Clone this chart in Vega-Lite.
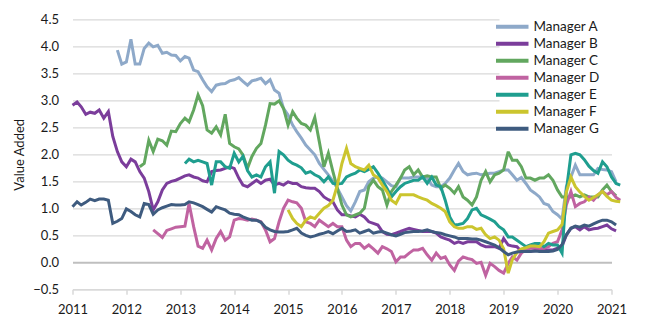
{
 "$schema": "https://vega.github.io/schema/vega-lite/v6.json",
 "width": 539, "height": 270,
 "autosize": {"type": "none"},
 "padding": {"left": 72.5, "top": 19.3, "right": 52.5, "bottom": 37.7},
 "background": "white",
 "config": {"view": {"stroke": null}, "font": "Lato"},
 "data": {"values": [
{"s":"Manager A","d":"2011-11","v":3.93},{"s":"Manager A","d":"2011-12","v":3.67},{"s":"Manager A","d":"2012-01","v":3.71},{"s":"Manager A","d":"2012-02","v":4.13},{"s":"Manager A","d":"2012-03","v":3.67},{"s":"Manager A","d":"2012-04","v":3.67},{"s":"Manager A","d":"2012-05","v":3.96},{"s":"Manager A","d":"2012-06","v":4.06},{"s":"Manager A","d":"2012-07","v":3.99},{"s":"Manager A","d":"2012-08","v":4.02},{"s":"Manager A","d":"2012-09","v":3.87},{"s":"Manager A","d":"2012-10","v":3.89},{"s":"Manager A","d":"2012-11","v":3.84},{"s":"Manager A","d":"2012-12","v":3.83},{"s":"Manager A","d":"2013-01","v":3.73},{"s":"Manager A","d":"2013-02","v":3.81},{"s":"Manager A","d":"2013-03","v":3.78},{"s":"Manager A","d":"2013-04","v":3.56},{"s":"Manager A","d":"2013-05","v":3.53},{"s":"Manager A","d":"2013-06","v":3.38},{"s":"Manager A","d":"2013-07","v":3.25},{"s":"Manager A","d":"2013-08","v":3.16},{"s":"Manager A","d":"2013-09","v":3.28},{"s":"Manager A","d":"2013-10","v":3.30},{"s":"Manager A","d":"2013-11","v":3.31},{"s":"Manager A","d":"2013-12","v":3.36},{"s":"Manager A","d":"2014-01","v":3.38},{"s":"Manager A","d":"2014-02","v":3.42},{"s":"Manager A","d":"2014-03","v":3.35},{"s":"Manager A","d":"2014-04","v":3.28},{"s":"Manager A","d":"2014-05","v":3.36},{"s":"Manager A","d":"2014-06","v":3.38},{"s":"Manager A","d":"2014-07","v":3.41},{"s":"Manager A","d":"2014-08","v":3.31},{"s":"Manager A","d":"2014-09","v":3.38},{"s":"Manager A","d":"2014-10","v":3.19},{"s":"Manager A","d":"2014-11","v":3.13},{"s":"Manager A","d":"2014-12","v":2.85},{"s":"Manager A","d":"2015-01","v":2.73},{"s":"Manager A","d":"2015-02","v":2.54},{"s":"Manager A","d":"2015-03","v":2.42},{"s":"Manager A","d":"2015-04","v":2.30},{"s":"Manager A","d":"2015-05","v":2.17},{"s":"Manager A","d":"2015-06","v":2.08},{"s":"Manager A","d":"2015-07","v":1.99},{"s":"Manager A","d":"2015-08","v":1.83},{"s":"Manager A","d":"2015-09","v":1.72},{"s":"Manager A","d":"2015-10","v":1.62},{"s":"Manager A","d":"2015-11","v":1.50},{"s":"Manager A","d":"2015-12","v":1.37},{"s":"Manager A","d":"2016-01","v":1.21},{"s":"Manager A","d":"2016-02","v":1.05},{"s":"Manager A","d":"2016-03","v":0.95},{"s":"Manager A","d":"2016-04","v":1.12},{"s":"Manager A","d":"2016-05","v":1.31},{"s":"Manager A","d":"2016-06","v":1.34},{"s":"Manager A","d":"2016-07","v":1.49},{"s":"Manager A","d":"2016-08","v":1.56},{"s":"Manager A","d":"2016-09","v":1.58},{"s":"Manager A","d":"2016-10","v":1.56},{"s":"Manager A","d":"2016-11","v":1.49},{"s":"Manager A","d":"2016-12","v":1.42},{"s":"Manager A","d":"2017-01","v":1.40},{"s":"Manager A","d":"2017-02","v":1.56},{"s":"Manager A","d":"2017-03","v":1.56},{"s":"Manager A","d":"2017-04","v":1.56},{"s":"Manager A","d":"2017-05","v":1.58},{"s":"Manager A","d":"2017-06","v":1.58},{"s":"Manager A","d":"2017-07","v":1.58},{"s":"Manager A","d":"2017-08","v":1.56},{"s":"Manager A","d":"2017-09","v":1.43},{"s":"Manager A","d":"2017-10","v":1.40},{"s":"Manager A","d":"2017-11","v":1.40},{"s":"Manager A","d":"2017-12","v":1.46},{"s":"Manager A","d":"2018-01","v":1.56},{"s":"Manager A","d":"2018-02","v":1.71},{"s":"Manager A","d":"2018-03","v":1.83},{"s":"Manager A","d":"2018-04","v":1.68},{"s":"Manager A","d":"2018-05","v":1.62},{"s":"Manager A","d":"2018-06","v":1.64},{"s":"Manager A","d":"2018-07","v":1.65},{"s":"Manager A","d":"2018-08","v":1.62},{"s":"Manager A","d":"2018-09","v":1.63},{"s":"Manager A","d":"2018-10","v":1.65},{"s":"Manager A","d":"2018-11","v":1.65},{"s":"Manager A","d":"2018-12","v":1.68},{"s":"Manager A","d":"2019-01","v":1.71},{"s":"Manager A","d":"2019-02","v":1.71},{"s":"Manager A","d":"2019-03","v":1.62},{"s":"Manager A","d":"2019-04","v":1.52},{"s":"Manager A","d":"2019-05","v":1.57},{"s":"Manager A","d":"2019-06","v":1.46},{"s":"Manager A","d":"2019-07","v":1.34},{"s":"Manager A","d":"2019-08","v":1.28},{"s":"Manager A","d":"2019-09","v":1.21},{"s":"Manager A","d":"2019-10","v":1.09},{"s":"Manager A","d":"2019-11","v":1.06},{"s":"Manager A","d":"2019-12","v":0.94},{"s":"Manager A","d":"2020-01","v":0.88},{"s":"Manager A","d":"2020-02","v":0.80},{"s":"Manager A","d":"2020-03","v":1.40},{"s":"Manager A","d":"2020-04","v":1.58},{"s":"Manager A","d":"2020-05","v":1.80},{"s":"Manager A","d":"2020-06","v":1.62},{"s":"Manager A","d":"2020-07","v":1.62},{"s":"Manager A","d":"2020-08","v":1.62},{"s":"Manager A","d":"2020-09","v":1.62},{"s":"Manager A","d":"2020-10","v":1.74},{"s":"Manager A","d":"2020-11","v":1.72},{"s":"Manager A","d":"2020-12","v":1.71},{"s":"Manager A","d":"2021-01","v":1.68},{"s":"Manager A","d":"2021-02","v":1.49},
{"s":"Manager B","d":"2011-01","v":2.91},{"s":"Manager B","d":"2011-02","v":2.97},{"s":"Manager B","d":"2011-03","v":2.88},{"s":"Manager B","d":"2011-04","v":2.74},{"s":"Manager B","d":"2011-05","v":2.78},{"s":"Manager B","d":"2011-06","v":2.76},{"s":"Manager B","d":"2011-07","v":2.82},{"s":"Manager B","d":"2011-08","v":2.67},{"s":"Manager B","d":"2011-09","v":2.79},{"s":"Manager B","d":"2011-10","v":2.33},{"s":"Manager B","d":"2011-11","v":2.05},{"s":"Manager B","d":"2011-12","v":1.86},{"s":"Manager B","d":"2012-01","v":1.77},{"s":"Manager B","d":"2012-02","v":1.91},{"s":"Manager B","d":"2012-03","v":1.86},{"s":"Manager B","d":"2012-04","v":1.68},{"s":"Manager B","d":"2012-05","v":1.56},{"s":"Manager B","d":"2012-06","v":1.31},{"s":"Manager B","d":"2012-07","v":0.97},{"s":"Manager B","d":"2012-08","v":1.12},{"s":"Manager B","d":"2012-09","v":1.34},{"s":"Manager B","d":"2012-10","v":1.46},{"s":"Manager B","d":"2012-11","v":1.50},{"s":"Manager B","d":"2012-12","v":1.52},{"s":"Manager B","d":"2013-01","v":1.56},{"s":"Manager B","d":"2013-02","v":1.60},{"s":"Manager B","d":"2013-03","v":1.62},{"s":"Manager B","d":"2013-04","v":1.58},{"s":"Manager B","d":"2013-05","v":1.56},{"s":"Manager B","d":"2013-06","v":1.51},{"s":"Manager B","d":"2013-07","v":1.49},{"s":"Manager B","d":"2013-08","v":1.68},{"s":"Manager B","d":"2013-09","v":1.70},{"s":"Manager B","d":"2013-10","v":1.71},{"s":"Manager B","d":"2013-11","v":1.74},{"s":"Manager B","d":"2013-12","v":1.77},{"s":"Manager B","d":"2014-01","v":1.74},{"s":"Manager B","d":"2014-02","v":1.56},{"s":"Manager B","d":"2014-03","v":1.43},{"s":"Manager B","d":"2014-04","v":1.40},{"s":"Manager B","d":"2014-05","v":1.46},{"s":"Manager B","d":"2014-06","v":1.52},{"s":"Manager B","d":"2014-07","v":1.46},{"s":"Manager B","d":"2014-08","v":1.52},{"s":"Manager B","d":"2014-09","v":1.54},{"s":"Manager B","d":"2014-10","v":1.43},{"s":"Manager B","d":"2014-11","v":1.46},{"s":"Manager B","d":"2014-12","v":1.43},{"s":"Manager B","d":"2015-01","v":1.49},{"s":"Manager B","d":"2015-02","v":1.46},{"s":"Manager B","d":"2015-03","v":1.46},{"s":"Manager B","d":"2015-04","v":1.40},{"s":"Manager B","d":"2015-05","v":1.38},{"s":"Manager B","d":"2015-06","v":1.37},{"s":"Manager B","d":"2015-07","v":1.37},{"s":"Manager B","d":"2015-08","v":1.31},{"s":"Manager B","d":"2015-09","v":1.21},{"s":"Manager B","d":"2015-10","v":1.16},{"s":"Manager B","d":"2015-11","v":1.12},{"s":"Manager B","d":"2015-12","v":0.97},{"s":"Manager B","d":"2016-01","v":0.88},{"s":"Manager B","d":"2016-02","v":0.88},{"s":"Manager B","d":"2016-03","v":0.86},{"s":"Manager B","d":"2016-04","v":0.84},{"s":"Manager B","d":"2016-05","v":0.89},{"s":"Manager B","d":"2016-06","v":0.84},{"s":"Manager B","d":"2016-07","v":0.75},{"s":"Manager B","d":"2016-08","v":0.72},{"s":"Manager B","d":"2016-09","v":0.69},{"s":"Manager B","d":"2016-10","v":0.57},{"s":"Manager B","d":"2016-11","v":0.52},{"s":"Manager B","d":"2016-12","v":0.51},{"s":"Manager B","d":"2017-01","v":0.54},{"s":"Manager B","d":"2017-02","v":0.57},{"s":"Manager B","d":"2017-03","v":0.60},{"s":"Manager B","d":"2017-04","v":0.63},{"s":"Manager B","d":"2017-05","v":0.61},{"s":"Manager B","d":"2017-06","v":0.59},{"s":"Manager B","d":"2017-07","v":0.57},{"s":"Manager B","d":"2017-08","v":0.57},{"s":"Manager B","d":"2017-09","v":0.57},{"s":"Manager B","d":"2017-10","v":0.54},{"s":"Manager B","d":"2017-11","v":0.47},{"s":"Manager B","d":"2017-12","v":0.44},{"s":"Manager B","d":"2018-01","v":0.41},{"s":"Manager B","d":"2018-02","v":0.35},{"s":"Manager B","d":"2018-03","v":0.38},{"s":"Manager B","d":"2018-04","v":0.35},{"s":"Manager B","d":"2018-05","v":0.38},{"s":"Manager B","d":"2018-06","v":0.38},{"s":"Manager B","d":"2018-07","v":0.38},{"s":"Manager B","d":"2018-08","v":0.32},{"s":"Manager B","d":"2018-09","v":0.29},{"s":"Manager B","d":"2018-10","v":0.29},{"s":"Manager B","d":"2018-11","v":0.29},{"s":"Manager B","d":"2018-12","v":0.26},{"s":"Manager B","d":"2019-01","v":0.44},{"s":"Manager B","d":"2019-02","v":0.32},{"s":"Manager B","d":"2019-03","v":0.30},{"s":"Manager B","d":"2019-04","v":0.29},{"s":"Manager B","d":"2019-05","v":0.20},{"s":"Manager B","d":"2019-06","v":0.23},{"s":"Manager B","d":"2019-07","v":0.20},{"s":"Manager B","d":"2019-08","v":0.22},{"s":"Manager B","d":"2019-09","v":0.23},{"s":"Manager B","d":"2019-10","v":0.23},{"s":"Manager B","d":"2019-11","v":0.23},{"s":"Manager B","d":"2019-12","v":0.23},{"s":"Manager B","d":"2020-01","v":0.26},{"s":"Manager B","d":"2020-02","v":0.30},{"s":"Manager B","d":"2020-03","v":0.50},{"s":"Manager B","d":"2020-04","v":0.63},{"s":"Manager B","d":"2020-05","v":0.66},{"s":"Manager B","d":"2020-06","v":0.60},{"s":"Manager B","d":"2020-07","v":0.66},{"s":"Manager B","d":"2020-08","v":0.60},{"s":"Manager B","d":"2020-09","v":0.62},{"s":"Manager B","d":"2020-10","v":0.63},{"s":"Manager B","d":"2020-11","v":0.66},{"s":"Manager B","d":"2020-12","v":0.69},{"s":"Manager B","d":"2021-01","v":0.62},{"s":"Manager B","d":"2021-02","v":0.58},
{"s":"Manager C","d":"2012-04","v":1.77},{"s":"Manager C","d":"2012-05","v":1.83},{"s":"Manager C","d":"2012-06","v":2.26},{"s":"Manager C","d":"2012-07","v":2.05},{"s":"Manager C","d":"2012-08","v":2.28},{"s":"Manager C","d":"2012-09","v":2.25},{"s":"Manager C","d":"2012-10","v":2.17},{"s":"Manager C","d":"2012-11","v":2.43},{"s":"Manager C","d":"2012-12","v":2.42},{"s":"Manager C","d":"2013-01","v":2.57},{"s":"Manager C","d":"2013-02","v":2.67},{"s":"Manager C","d":"2013-03","v":2.60},{"s":"Manager C","d":"2013-04","v":2.82},{"s":"Manager C","d":"2013-05","v":3.10},{"s":"Manager C","d":"2013-06","v":2.90},{"s":"Manager C","d":"2013-07","v":2.45},{"s":"Manager C","d":"2013-08","v":2.39},{"s":"Manager C","d":"2013-09","v":2.51},{"s":"Manager C","d":"2013-10","v":2.36},{"s":"Manager C","d":"2013-11","v":2.74},{"s":"Manager C","d":"2013-12","v":2.20},{"s":"Manager C","d":"2014-01","v":2.14},{"s":"Manager C","d":"2014-02","v":2.10},{"s":"Manager C","d":"2014-03","v":1.99},{"s":"Manager C","d":"2014-04","v":1.74},{"s":"Manager C","d":"2014-05","v":1.96},{"s":"Manager C","d":"2014-06","v":2.11},{"s":"Manager C","d":"2014-07","v":2.20},{"s":"Manager C","d":"2014-08","v":2.54},{"s":"Manager C","d":"2014-09","v":2.94},{"s":"Manager C","d":"2014-10","v":2.93},{"s":"Manager C","d":"2014-11","v":2.99},{"s":"Manager C","d":"2014-12","v":2.85},{"s":"Manager C","d":"2015-01","v":2.54},{"s":"Manager C","d":"2015-02","v":2.79},{"s":"Manager C","d":"2015-03","v":2.67},{"s":"Manager C","d":"2015-04","v":2.57},{"s":"Manager C","d":"2015-05","v":2.54},{"s":"Manager C","d":"2015-06","v":2.45},{"s":"Manager C","d":"2015-07","v":2.68},{"s":"Manager C","d":"2015-08","v":2.23},{"s":"Manager C","d":"2015-09","v":1.77},{"s":"Manager C","d":"2015-10","v":2.02},{"s":"Manager C","d":"2015-11","v":1.68},{"s":"Manager C","d":"2015-12","v":1.37},{"s":"Manager C","d":"2016-01","v":1.06},{"s":"Manager C","d":"2016-02","v":0.88},{"s":"Manager C","d":"2016-03","v":0.84},{"s":"Manager C","d":"2016-04","v":0.88},{"s":"Manager C","d":"2016-05","v":0.91},{"s":"Manager C","d":"2016-06","v":1.00},{"s":"Manager C","d":"2016-07","v":1.40},{"s":"Manager C","d":"2016-08","v":1.52},{"s":"Manager C","d":"2016-09","v":1.40},{"s":"Manager C","d":"2016-10","v":1.34},{"s":"Manager C","d":"2016-11","v":1.06},{"s":"Manager C","d":"2016-12","v":1.31},{"s":"Manager C","d":"2017-01","v":1.43},{"s":"Manager C","d":"2017-02","v":1.56},{"s":"Manager C","d":"2017-03","v":1.71},{"s":"Manager C","d":"2017-04","v":1.77},{"s":"Manager C","d":"2017-05","v":1.62},{"s":"Manager C","d":"2017-06","v":1.71},{"s":"Manager C","d":"2017-07","v":1.58},{"s":"Manager C","d":"2017-08","v":1.60},{"s":"Manager C","d":"2017-09","v":1.58},{"s":"Manager C","d":"2017-10","v":1.58},{"s":"Manager C","d":"2017-11","v":1.37},{"s":"Manager C","d":"2017-12","v":1.43},{"s":"Manager C","d":"2018-01","v":1.37},{"s":"Manager C","d":"2018-02","v":1.28},{"s":"Manager C","d":"2018-03","v":1.40},{"s":"Manager C","d":"2018-04","v":1.21},{"s":"Manager C","d":"2018-05","v":1.15},{"s":"Manager C","d":"2018-06","v":1.06},{"s":"Manager C","d":"2018-07","v":1.21},{"s":"Manager C","d":"2018-08","v":1.52},{"s":"Manager C","d":"2018-09","v":1.68},{"s":"Manager C","d":"2018-10","v":1.49},{"s":"Manager C","d":"2018-11","v":1.62},{"s":"Manager C","d":"2018-12","v":1.65},{"s":"Manager C","d":"2019-01","v":1.71},{"s":"Manager C","d":"2019-02","v":2.05},{"s":"Manager C","d":"2019-03","v":1.89},{"s":"Manager C","d":"2019-04","v":1.89},{"s":"Manager C","d":"2019-05","v":1.77},{"s":"Manager C","d":"2019-06","v":1.56},{"s":"Manager C","d":"2019-07","v":1.56},{"s":"Manager C","d":"2019-08","v":1.52},{"s":"Manager C","d":"2019-09","v":1.56},{"s":"Manager C","d":"2019-10","v":1.56},{"s":"Manager C","d":"2019-11","v":1.62},{"s":"Manager C","d":"2019-12","v":1.52},{"s":"Manager C","d":"2020-01","v":1.34},{"s":"Manager C","d":"2020-02","v":1.21},{"s":"Manager C","d":"2020-03","v":1.21},{"s":"Manager C","d":"2020-04","v":1.21},{"s":"Manager C","d":"2020-05","v":1.25},{"s":"Manager C","d":"2020-06","v":1.21},{"s":"Manager C","d":"2020-07","v":1.25},{"s":"Manager C","d":"2020-08","v":1.21},{"s":"Manager C","d":"2020-09","v":1.21},{"s":"Manager C","d":"2020-10","v":1.21},{"s":"Manager C","d":"2020-11","v":1.34},{"s":"Manager C","d":"2020-12","v":1.43},{"s":"Manager C","d":"2021-01","v":1.31},{"s":"Manager C","d":"2021-02","v":1.23},
{"s":"Manager D","d":"2012-07","v":0.60},{"s":"Manager D","d":"2012-08","v":0.53},{"s":"Manager D","d":"2012-09","v":0.46},{"s":"Manager D","d":"2012-10","v":0.59},{"s":"Manager D","d":"2012-11","v":0.62},{"s":"Manager D","d":"2012-12","v":0.65},{"s":"Manager D","d":"2013-01","v":0.66},{"s":"Manager D","d":"2013-02","v":0.67},{"s":"Manager D","d":"2013-03","v":1.09},{"s":"Manager D","d":"2013-04","v":0.66},{"s":"Manager D","d":"2013-05","v":0.30},{"s":"Manager D","d":"2013-06","v":0.26},{"s":"Manager D","d":"2013-07","v":0.41},{"s":"Manager D","d":"2013-08","v":0.23},{"s":"Manager D","d":"2013-09","v":0.44},{"s":"Manager D","d":"2013-10","v":0.57},{"s":"Manager D","d":"2013-11","v":0.41},{"s":"Manager D","d":"2013-12","v":0.47},{"s":"Manager D","d":"2014-01","v":0.78},{"s":"Manager D","d":"2014-02","v":0.81},{"s":"Manager D","d":"2014-03","v":0.80},{"s":"Manager D","d":"2014-04","v":0.78},{"s":"Manager D","d":"2014-05","v":0.80},{"s":"Manager D","d":"2014-06","v":0.78},{"s":"Manager D","d":"2014-07","v":0.75},{"s":"Manager D","d":"2014-08","v":0.60},{"s":"Manager D","d":"2014-09","v":0.38},{"s":"Manager D","d":"2014-10","v":0.44},{"s":"Manager D","d":"2014-11","v":0.75},{"s":"Manager D","d":"2014-12","v":1.00},{"s":"Manager D","d":"2015-01","v":1.15},{"s":"Manager D","d":"2015-02","v":1.12},{"s":"Manager D","d":"2015-03","v":1.10},{"s":"Manager D","d":"2015-04","v":1.00},{"s":"Manager D","d":"2015-05","v":0.75},{"s":"Manager D","d":"2015-06","v":0.72},{"s":"Manager D","d":"2015-07","v":0.66},{"s":"Manager D","d":"2015-08","v":0.78},{"s":"Manager D","d":"2015-09","v":0.72},{"s":"Manager D","d":"2015-10","v":0.66},{"s":"Manager D","d":"2015-11","v":0.72},{"s":"Manager D","d":"2015-12","v":0.66},{"s":"Manager D","d":"2016-01","v":0.66},{"s":"Manager D","d":"2016-02","v":0.41},{"s":"Manager D","d":"2016-03","v":0.29},{"s":"Manager D","d":"2016-04","v":0.35},{"s":"Manager D","d":"2016-05","v":0.35},{"s":"Manager D","d":"2016-06","v":0.26},{"s":"Manager D","d":"2016-07","v":0.32},{"s":"Manager D","d":"2016-08","v":0.25},{"s":"Manager D","d":"2016-09","v":0.17},{"s":"Manager D","d":"2016-10","v":0.29},{"s":"Manager D","d":"2016-11","v":0.25},{"s":"Manager D","d":"2016-12","v":0.20},{"s":"Manager D","d":"2017-01","v":0.01},{"s":"Manager D","d":"2017-02","v":0.10},{"s":"Manager D","d":"2017-03","v":0.10},{"s":"Manager D","d":"2017-04","v":0.17},{"s":"Manager D","d":"2017-05","v":0.23},{"s":"Manager D","d":"2017-06","v":0.23},{"s":"Manager D","d":"2017-07","v":0.26},{"s":"Manager D","d":"2017-08","v":0.14},{"s":"Manager D","d":"2017-09","v":0.04},{"s":"Manager D","d":"2017-10","v":0.17},{"s":"Manager D","d":"2017-11","v":0.07},{"s":"Manager D","d":"2017-12","v":0.10},{"s":"Manager D","d":"2018-01","v":-0.05},{"s":"Manager D","d":"2018-02","v":-0.15},{"s":"Manager D","d":"2018-03","v":0.02},{"s":"Manager D","d":"2018-04","v":0.10},{"s":"Manager D","d":"2018-05","v":0.07},{"s":"Manager D","d":"2018-06","v":0.05},{"s":"Manager D","d":"2018-07","v":-0.02},{"s":"Manager D","d":"2018-08","v":0.00},{"s":"Manager D","d":"2018-09","v":-0.24},{"s":"Manager D","d":"2018-10","v":-0.02},{"s":"Manager D","d":"2018-11","v":-0.08},{"s":"Manager D","d":"2018-12","v":-0.15},{"s":"Manager D","d":"2019-01","v":-0.20},{"s":"Manager D","d":"2019-02","v":-0.02},{"s":"Manager D","d":"2019-03","v":0.10},{"s":"Manager D","d":"2019-04","v":0.04},{"s":"Manager D","d":"2019-05","v":0.17},{"s":"Manager D","d":"2019-06","v":0.23},{"s":"Manager D","d":"2019-07","v":0.26},{"s":"Manager D","d":"2019-08","v":0.26},{"s":"Manager D","d":"2019-09","v":0.26},{"s":"Manager D","d":"2019-10","v":0.26},{"s":"Manager D","d":"2019-11","v":0.29},{"s":"Manager D","d":"2019-12","v":0.35},{"s":"Manager D","d":"2020-01","v":0.38},{"s":"Manager D","d":"2020-02","v":0.60},{"s":"Manager D","d":"2020-03","v":1.06},{"s":"Manager D","d":"2020-04","v":1.31},{"s":"Manager D","d":"2020-05","v":1.03},{"s":"Manager D","d":"2020-06","v":1.09},{"s":"Manager D","d":"2020-07","v":1.12},{"s":"Manager D","d":"2020-08","v":1.21},{"s":"Manager D","d":"2020-09","v":1.15},{"s":"Manager D","d":"2020-10","v":1.25},{"s":"Manager D","d":"2020-11","v":1.31},{"s":"Manager D","d":"2020-12","v":1.25},{"s":"Manager D","d":"2021-01","v":1.31},{"s":"Manager D","d":"2021-02","v":1.20},{"s":"Manager D","d":"2021-03","v":1.15},
{"s":"Manager E","d":"2013-02","v":1.83},{"s":"Manager E","d":"2013-03","v":1.91},{"s":"Manager E","d":"2013-04","v":1.86},{"s":"Manager E","d":"2013-05","v":1.89},{"s":"Manager E","d":"2013-06","v":1.86},{"s":"Manager E","d":"2013-07","v":1.83},{"s":"Manager E","d":"2013-08","v":1.43},{"s":"Manager E","d":"2013-09","v":1.86},{"s":"Manager E","d":"2013-10","v":1.86},{"s":"Manager E","d":"2013-11","v":1.77},{"s":"Manager E","d":"2013-12","v":1.74},{"s":"Manager E","d":"2014-01","v":2.02},{"s":"Manager E","d":"2014-02","v":1.86},{"s":"Manager E","d":"2014-03","v":1.96},{"s":"Manager E","d":"2014-04","v":1.70},{"s":"Manager E","d":"2014-05","v":1.58},{"s":"Manager E","d":"2014-06","v":1.62},{"s":"Manager E","d":"2014-07","v":1.58},{"s":"Manager E","d":"2014-08","v":1.77},{"s":"Manager E","d":"2014-09","v":1.86},{"s":"Manager E","d":"2014-10","v":1.28},{"s":"Manager E","d":"2014-11","v":2.05},{"s":"Manager E","d":"2014-12","v":1.99},{"s":"Manager E","d":"2015-01","v":1.89},{"s":"Manager E","d":"2015-02","v":1.83},{"s":"Manager E","d":"2015-03","v":1.80},{"s":"Manager E","d":"2015-04","v":1.75},{"s":"Manager E","d":"2015-05","v":1.65},{"s":"Manager E","d":"2015-06","v":1.68},{"s":"Manager E","d":"2015-07","v":1.62},{"s":"Manager E","d":"2015-08","v":1.58},{"s":"Manager E","d":"2015-09","v":1.49},{"s":"Manager E","d":"2015-10","v":1.58},{"s":"Manager E","d":"2015-11","v":1.46},{"s":"Manager E","d":"2015-12","v":1.45},{"s":"Manager E","d":"2016-01","v":1.46},{"s":"Manager E","d":"2016-02","v":1.58},{"s":"Manager E","d":"2016-03","v":1.62},{"s":"Manager E","d":"2016-04","v":1.65},{"s":"Manager E","d":"2016-05","v":1.71},{"s":"Manager E","d":"2016-06","v":1.68},{"s":"Manager E","d":"2016-07","v":1.72},{"s":"Manager E","d":"2016-08","v":1.77},{"s":"Manager E","d":"2016-09","v":1.65},{"s":"Manager E","d":"2016-10","v":1.52},{"s":"Manager E","d":"2016-11","v":1.37},{"s":"Manager E","d":"2016-12","v":1.21},{"s":"Manager E","d":"2017-01","v":1.31},{"s":"Manager E","d":"2017-02","v":1.40},{"s":"Manager E","d":"2017-03","v":1.46},{"s":"Manager E","d":"2017-04","v":1.49},{"s":"Manager E","d":"2017-05","v":1.52},{"s":"Manager E","d":"2017-06","v":1.52},{"s":"Manager E","d":"2017-07","v":1.58},{"s":"Manager E","d":"2017-08","v":1.46},{"s":"Manager E","d":"2017-09","v":1.58},{"s":"Manager E","d":"2017-10","v":1.43},{"s":"Manager E","d":"2017-11","v":1.40},{"s":"Manager E","d":"2017-12","v":1.15},{"s":"Manager E","d":"2018-01","v":0.84},{"s":"Manager E","d":"2018-02","v":0.69},{"s":"Manager E","d":"2018-03","v":0.70},{"s":"Manager E","d":"2018-04","v":0.72},{"s":"Manager E","d":"2018-05","v":0.81},{"s":"Manager E","d":"2018-06","v":0.97},{"s":"Manager E","d":"2018-07","v":1.00},{"s":"Manager E","d":"2018-08","v":0.88},{"s":"Manager E","d":"2018-09","v":0.84},{"s":"Manager E","d":"2018-10","v":0.80},{"s":"Manager E","d":"2018-11","v":0.75},{"s":"Manager E","d":"2018-12","v":0.66},{"s":"Manager E","d":"2019-01","v":0.60},{"s":"Manager E","d":"2019-02","v":0.47},{"s":"Manager E","d":"2019-03","v":0.47},{"s":"Manager E","d":"2019-04","v":0.41},{"s":"Manager E","d":"2019-05","v":0.35},{"s":"Manager E","d":"2019-06","v":0.29},{"s":"Manager E","d":"2019-07","v":0.32},{"s":"Manager E","d":"2019-08","v":0.35},{"s":"Manager E","d":"2019-09","v":0.35},{"s":"Manager E","d":"2019-10","v":0.29},{"s":"Manager E","d":"2019-11","v":0.35},{"s":"Manager E","d":"2019-12","v":0.32},{"s":"Manager E","d":"2020-01","v":0.32},{"s":"Manager E","d":"2020-02","v":0.17},{"s":"Manager E","d":"2020-03","v":1.33},{"s":"Manager E","d":"2020-04","v":1.99},{"s":"Manager E","d":"2020-05","v":2.02},{"s":"Manager E","d":"2020-06","v":1.99},{"s":"Manager E","d":"2020-07","v":1.90},{"s":"Manager E","d":"2020-08","v":1.78},{"s":"Manager E","d":"2020-09","v":1.70},{"s":"Manager E","d":"2020-10","v":1.65},{"s":"Manager E","d":"2020-11","v":1.86},{"s":"Manager E","d":"2020-12","v":1.77},{"s":"Manager E","d":"2021-01","v":1.58},{"s":"Manager E","d":"2021-02","v":1.46},{"s":"Manager E","d":"2021-03","v":1.43},
{"s":"Manager F","d":"2015-01","v":0.97},{"s":"Manager F","d":"2015-02","v":0.81},{"s":"Manager F","d":"2015-03","v":0.72},{"s":"Manager F","d":"2015-04","v":0.66},{"s":"Manager F","d":"2015-05","v":0.78},{"s":"Manager F","d":"2015-06","v":0.84},{"s":"Manager F","d":"2015-07","v":0.81},{"s":"Manager F","d":"2015-08","v":0.91},{"s":"Manager F","d":"2015-09","v":1.00},{"s":"Manager F","d":"2015-10","v":1.05},{"s":"Manager F","d":"2015-11","v":1.15},{"s":"Manager F","d":"2015-12","v":1.43},{"s":"Manager F","d":"2016-01","v":1.83},{"s":"Manager F","d":"2016-02","v":2.11},{"s":"Manager F","d":"2016-03","v":1.83},{"s":"Manager F","d":"2016-04","v":1.77},{"s":"Manager F","d":"2016-05","v":1.74},{"s":"Manager F","d":"2016-06","v":1.71},{"s":"Manager F","d":"2016-07","v":1.80},{"s":"Manager F","d":"2016-08","v":1.62},{"s":"Manager F","d":"2016-09","v":1.56},{"s":"Manager F","d":"2016-10","v":1.43},{"s":"Manager F","d":"2016-11","v":1.31},{"s":"Manager F","d":"2016-12","v":1.15},{"s":"Manager F","d":"2017-01","v":1.09},{"s":"Manager F","d":"2017-02","v":1.25},{"s":"Manager F","d":"2017-03","v":1.25},{"s":"Manager F","d":"2017-04","v":1.25},{"s":"Manager F","d":"2017-05","v":1.25},{"s":"Manager F","d":"2017-06","v":1.21},{"s":"Manager F","d":"2017-07","v":1.18},{"s":"Manager F","d":"2017-08","v":1.15},{"s":"Manager F","d":"2017-09","v":1.09},{"s":"Manager F","d":"2017-10","v":1.05},{"s":"Manager F","d":"2017-11","v":1.00},{"s":"Manager F","d":"2017-12","v":0.94},{"s":"Manager F","d":"2018-01","v":0.75},{"s":"Manager F","d":"2018-02","v":0.66},{"s":"Manager F","d":"2018-03","v":0.63},{"s":"Manager F","d":"2018-04","v":0.63},{"s":"Manager F","d":"2018-05","v":0.66},{"s":"Manager F","d":"2018-06","v":0.66},{"s":"Manager F","d":"2018-07","v":0.61},{"s":"Manager F","d":"2018-08","v":0.63},{"s":"Manager F","d":"2018-09","v":0.51},{"s":"Manager F","d":"2018-10","v":0.44},{"s":"Manager F","d":"2018-11","v":0.47},{"s":"Manager F","d":"2018-12","v":0.41},{"s":"Manager F","d":"2019-01","v":0.25},{"s":"Manager F","d":"2019-02","v":-0.20},{"s":"Manager F","d":"2019-03","v":0.05},{"s":"Manager F","d":"2019-04","v":0.18},{"s":"Manager F","d":"2019-05","v":0.25},{"s":"Manager F","d":"2019-06","v":0.27},{"s":"Manager F","d":"2019-07","v":0.30},{"s":"Manager F","d":"2019-08","v":0.30},{"s":"Manager F","d":"2019-09","v":0.29},{"s":"Manager F","d":"2019-10","v":0.38},{"s":"Manager F","d":"2019-11","v":0.54},{"s":"Manager F","d":"2019-12","v":0.57},{"s":"Manager F","d":"2020-01","v":0.60},{"s":"Manager F","d":"2020-02","v":0.70},{"s":"Manager F","d":"2020-03","v":1.30},{"s":"Manager F","d":"2020-04","v":1.58},{"s":"Manager F","d":"2020-05","v":1.40},{"s":"Manager F","d":"2020-06","v":1.30},{"s":"Manager F","d":"2020-07","v":1.22},{"s":"Manager F","d":"2020-08","v":1.15},{"s":"Manager F","d":"2020-09","v":1.20},{"s":"Manager F","d":"2020-10","v":1.25},{"s":"Manager F","d":"2020-11","v":1.31},{"s":"Manager F","d":"2020-12","v":1.22},{"s":"Manager F","d":"2021-01","v":1.15},{"s":"Manager F","d":"2021-02","v":1.13},{"s":"Manager F","d":"2021-03","v":1.12},
{"s":"Manager G","d":"2011-01","v":1.03},{"s":"Manager G","d":"2011-02","v":1.12},{"s":"Manager G","d":"2011-03","v":1.06},{"s":"Manager G","d":"2011-04","v":1.11},{"s":"Manager G","d":"2011-05","v":1.17},{"s":"Manager G","d":"2011-06","v":1.14},{"s":"Manager G","d":"2011-07","v":1.17},{"s":"Manager G","d":"2011-08","v":1.17},{"s":"Manager G","d":"2011-09","v":1.15},{"s":"Manager G","d":"2011-10","v":0.72},{"s":"Manager G","d":"2011-11","v":0.76},{"s":"Manager G","d":"2011-12","v":0.81},{"s":"Manager G","d":"2012-01","v":0.99},{"s":"Manager G","d":"2012-02","v":0.94},{"s":"Manager G","d":"2012-03","v":0.88},{"s":"Manager G","d":"2012-04","v":0.84},{"s":"Manager G","d":"2012-05","v":1.09},{"s":"Manager G","d":"2012-06","v":1.07},{"s":"Manager G","d":"2012-07","v":0.89},{"s":"Manager G","d":"2012-08","v":0.97},{"s":"Manager G","d":"2012-09","v":1.01},{"s":"Manager G","d":"2012-10","v":1.04},{"s":"Manager G","d":"2012-11","v":1.07},{"s":"Manager G","d":"2012-12","v":1.06},{"s":"Manager G","d":"2013-01","v":1.06},{"s":"Manager G","d":"2013-02","v":1.07},{"s":"Manager G","d":"2013-03","v":1.12},{"s":"Manager G","d":"2013-04","v":1.10},{"s":"Manager G","d":"2013-05","v":1.07},{"s":"Manager G","d":"2013-06","v":1.03},{"s":"Manager G","d":"2013-07","v":0.98},{"s":"Manager G","d":"2013-08","v":0.93},{"s":"Manager G","d":"2013-09","v":1.03},{"s":"Manager G","d":"2013-10","v":1.00},{"s":"Manager G","d":"2013-11","v":0.97},{"s":"Manager G","d":"2013-12","v":0.91},{"s":"Manager G","d":"2014-01","v":0.89},{"s":"Manager G","d":"2014-02","v":0.88},{"s":"Manager G","d":"2014-03","v":0.84},{"s":"Manager G","d":"2014-04","v":0.81},{"s":"Manager G","d":"2014-05","v":0.78},{"s":"Manager G","d":"2014-06","v":0.78},{"s":"Manager G","d":"2014-07","v":0.74},{"s":"Manager G","d":"2014-08","v":0.65},{"s":"Manager G","d":"2014-09","v":0.60},{"s":"Manager G","d":"2014-10","v":0.57},{"s":"Manager G","d":"2014-11","v":0.56},{"s":"Manager G","d":"2014-12","v":0.56},{"s":"Manager G","d":"2015-01","v":0.57},{"s":"Manager G","d":"2015-02","v":0.60},{"s":"Manager G","d":"2015-03","v":0.63},{"s":"Manager G","d":"2015-04","v":0.54},{"s":"Manager G","d":"2015-05","v":0.50},{"s":"Manager G","d":"2015-06","v":0.47},{"s":"Manager G","d":"2015-07","v":0.49},{"s":"Manager G","d":"2015-08","v":0.52},{"s":"Manager G","d":"2015-09","v":0.54},{"s":"Manager G","d":"2015-10","v":0.57},{"s":"Manager G","d":"2015-11","v":0.53},{"s":"Manager G","d":"2015-12","v":0.58},{"s":"Manager G","d":"2016-01","v":0.63},{"s":"Manager G","d":"2016-02","v":0.57},{"s":"Manager G","d":"2016-03","v":0.58},{"s":"Manager G","d":"2016-04","v":0.60},{"s":"Manager G","d":"2016-05","v":0.54},{"s":"Manager G","d":"2016-06","v":0.57},{"s":"Manager G","d":"2016-07","v":0.60},{"s":"Manager G","d":"2016-08","v":0.54},{"s":"Manager G","d":"2016-09","v":0.56},{"s":"Manager G","d":"2016-10","v":0.57},{"s":"Manager G","d":"2016-11","v":0.54},{"s":"Manager G","d":"2016-12","v":0.51},{"s":"Manager G","d":"2017-01","v":0.49},{"s":"Manager G","d":"2017-02","v":0.52},{"s":"Manager G","d":"2017-03","v":0.55},{"s":"Manager G","d":"2017-04","v":0.56},{"s":"Manager G","d":"2017-05","v":0.57},{"s":"Manager G","d":"2017-06","v":0.57},{"s":"Manager G","d":"2017-07","v":0.58},{"s":"Manager G","d":"2017-08","v":0.60},{"s":"Manager G","d":"2017-09","v":0.57},{"s":"Manager G","d":"2017-10","v":0.55},{"s":"Manager G","d":"2017-11","v":0.54},{"s":"Manager G","d":"2017-12","v":0.51},{"s":"Manager G","d":"2018-01","v":0.49},{"s":"Manager G","d":"2018-02","v":0.47},{"s":"Manager G","d":"2018-03","v":0.44},{"s":"Manager G","d":"2018-04","v":0.44},{"s":"Manager G","d":"2018-05","v":0.44},{"s":"Manager G","d":"2018-06","v":0.43},{"s":"Manager G","d":"2018-07","v":0.43},{"s":"Manager G","d":"2018-08","v":0.41},{"s":"Manager G","d":"2018-09","v":0.38},{"s":"Manager G","d":"2018-10","v":0.35},{"s":"Manager G","d":"2018-11","v":0.32},{"s":"Manager G","d":"2018-12","v":0.27},{"s":"Manager G","d":"2019-01","v":0.20},{"s":"Manager G","d":"2019-02","v":0.14},{"s":"Manager G","d":"2019-03","v":0.17},{"s":"Manager G","d":"2019-04","v":0.19},{"s":"Manager G","d":"2019-05","v":0.20},{"s":"Manager G","d":"2019-06","v":0.20},{"s":"Manager G","d":"2019-07","v":0.20},{"s":"Manager G","d":"2019-08","v":0.21},{"s":"Manager G","d":"2019-09","v":0.20},{"s":"Manager G","d":"2019-10","v":0.20},{"s":"Manager G","d":"2019-11","v":0.20},{"s":"Manager G","d":"2019-12","v":0.21},{"s":"Manager G","d":"2020-01","v":0.24},{"s":"Manager G","d":"2020-02","v":0.33},{"s":"Manager G","d":"2020-03","v":0.51},{"s":"Manager G","d":"2020-04","v":0.63},{"s":"Manager G","d":"2020-05","v":0.67},{"s":"Manager G","d":"2020-06","v":0.65},{"s":"Manager G","d":"2020-07","v":0.69},{"s":"Manager G","d":"2020-08","v":0.67},{"s":"Manager G","d":"2020-09","v":0.71},{"s":"Manager G","d":"2020-10","v":0.75},{"s":"Manager G","d":"2020-11","v":0.78},{"s":"Manager G","d":"2020-12","v":0.78},{"s":"Manager G","d":"2021-01","v":0.75},{"s":"Manager G","d":"2021-02","v":0.69}
 ]},
 "mark": {"type": "line", "strokeWidth": 3, "clip": false},
 "encoding": {
  "x": {"field": "d", "type": "temporal",
    "scale": {"domain": ["2011-01-01", "2021-01-01"]},
    "axis": {"title": null, "grid": false, "format": "%Y",
      "values": [{"year":2011},{"year":2012},{"year":2013},{"year":2014},{"year":2015},{"year":2016},{"year":2017},{"year":2018},{"year":2019},{"year":2020},{"year":2021}],
      "domainColor": "#d9d9d9", "domainWidth": 1.5, "tickColor": "#d9d9d9", "tickSize": 5, "tickWidth": 1.5,
      "labelFontSize": 13, "labelColor": "#1a1a1a", "labelPadding": 9, "labelFlush": false, "labelOverlap": false}},
  "y": {"field": "v", "type": "quantitative",
    "scale": {"domain": [-0.5, 4.5], "nice": false, "zero": false},
    "axis": {"title": "Value Added", "values": [-0.5, 0.0, 0.5, 1.0, 1.5, 2.0, 2.5, 3.0, 3.5, 4.0, 4.5], "format": ".1f",
      "grid": true,
      "gridColor": {"condition": {"test": "datum.value === 0", "value": "#bfbfbf"}, "value": "#d9d9d9"},
      "gridWidth": {"condition": {"test": "datum.value === 0", "value": 2}, "value": 1.2},
      "domain": false, "ticks": false,
      "labelPadding": 14, "labelFontSize": 13, "labelColor": "#1a1a1a", "labelOverlap": false, "labelBound": false,
      "titleFontSize": 13, "titleFontWeight": "normal", "titleColor": "#1a1a1a", "titlePadding": 6}},
  "color": {"field": "s", "type": "nominal",
    "scale": {"domain": ["Manager A","Manager B","Manager C","Manager D","Manager E","Manager F","Manager G"],
              "range": ["#8ea9c9","#7b3d9b","#62a75f","#c063a1","#1f9e8f","#cbc52e","#3e5b7f"]},
    "legend": {"title": null, "orient": "none", "legendX": 427, "legendY": -15,
      "symbolType": "M-4,0L1,0", "symbolStrokeWidth": 4, "symbolSize": 169,
      "labelFontSize": 13.5, "labelColor": "#1a1a1a", "labelOffset": 3,
      "fillColor": "white", "padding": 14, "rowPadding": -3}}
 }
}
